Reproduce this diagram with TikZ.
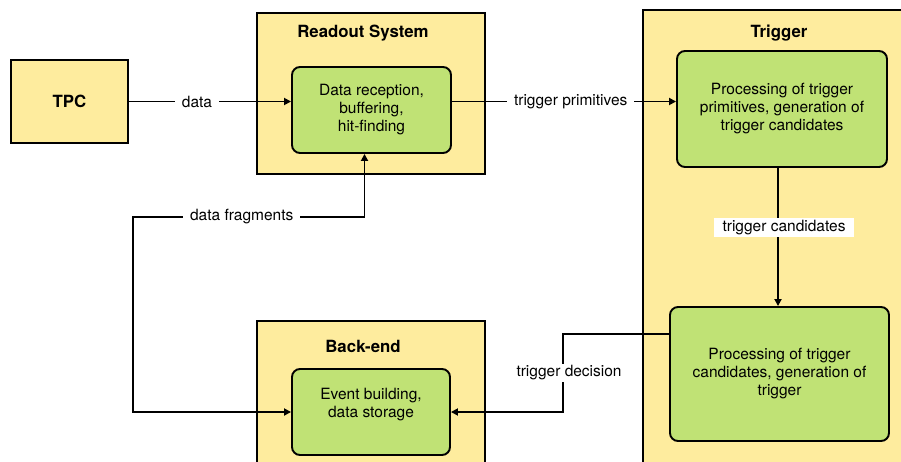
\documentclass[tikz,border=0pt]{standalone}
\usepackage{fontspec}
\setmainfont{TeX Gyre Heros}
\usetikzlibrary{arrows.meta, positioning}
\definecolor{panelyellow}{HTML}{FEEC9E}
\definecolor{stagegreen}{HTML}{C0E275}

\begin{document}
\begin{tikzpicture}[x=1pt, y=-1pt, >={Triangle[length=7pt,width=7pt]},
  panel/.style={draw=black, fill=panelyellow, line width=1.9pt},
  stage/.style={draw=black, fill=stagegreen, line width=1.9pt, rounded corners=8pt, align=center, font=\fontsize{15.5}{18}\selectfont},
  paneltitle/.style={font=\fontsize{16.8}{19}\selectfont\bfseries},
  flow/.style={line width=1.7pt, ->},
  flowlabel/.style={fill=white, font=\fontsize{15.5}{18}\selectfont, inner xsep=7pt, inner ysep=2pt}]
\clip (0,0) rectangle (901,462);
\node (tpc) at (69.5,101.5) [panel, minimum width=117pt, minimum height=83pt, paneltitle] {TPC};
\node (readout) at (371,93.5) [panel, minimum width=228pt, minimum height=161pt] {};
\node (trigger) at (801,265) [panel, minimum width=316pt, minimum height=510pt] {};
\node (backend) at (371,420) [panel, minimum width=228pt, minimum height=198pt] {};
\node (rdtitle) at (363,33) [paneltitle] {Readout System};
\node (trtitle) at (779,33) [paneltitle] {Trigger};
\node (betitle) at (363,346) [paneltitle] {Back-end};
\node (rdin) at (371.5,110) [stage, minimum width=159pt, minimum height=86pt] {Data reception,\\buffering,\\hit-finding};
\node (tpproc) at (782,109) [stage, minimum width=210pt, minimum height=116pt] {Processing of trigger\\primitives, generation of\\trigger candidates};
\node (tcproc) at (779.5,374) [stage, minimum width=219pt, minimum height=134pt] {Processing of trigger\\candidates, generation of\\trigger};
\node (evb) at (371,412) [stage, minimum width=158pt, minimum height=86pt] {Event building,\\data storage\\\mbox{}};
\coordinate (fragcorner) at (133,217);
\draw[flow] (tpc.east) -- node[flowlabel, pos=0.42] {data} (rdin.west |- tpc.east);
\draw[flow] (rdin.east |- tpc.east) -- node[flowlabel, pos=0.53] {trigger primitives} (tpproc.west |- tpc.east);
\draw[flow] ([xshift=-4pt]tpproc.south) -- node[flowlabel, pos=0.43, xshift=6pt, inner xsep=9pt] {trigger candidates} ([xshift=-4pt]tpproc.south |- tcproc.north);
\draw[flow] ([yshift=40pt]tcproc.west) -- ++(-106,0) |- node[flowlabel, pos=0.25, xshift=6pt] {trigger decision} (evb.east);
\draw[flow, <->] (evb.west) -| (fragcorner) -| node[flowlabel, pos=0.25, xshift=-7pt] {data fragments} ([xshift=-7pt]rdin.south);
\end{tikzpicture}
\end{document}
